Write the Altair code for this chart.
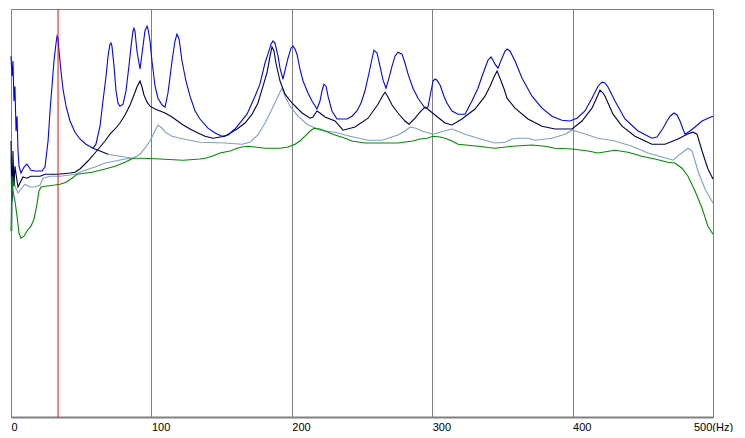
import altair as alt
import pandas as pd

# Frequency (Hz) and level (dB, arbitrary reference)
blue_hz = [0, 0.7, 1.4, 2.1, 2.8, 3.6, 4.3, 5.0, 5.7, 7.1, 9.3, 11.4, 12.8, 14.2, 17.1, 22.1, 24.2, 26.4, 27.8, 29.2,
           30.6, 32.1, 32.8, 33.5, 34.2, 35.6, 37.0, 39.2, 42.0, 45.6, 49.1, 53.4, 58.4, 60.5, 63.4, 65.5, 67.7, 69.1,
           70.5, 71.2, 71.9, 73.4, 74.8, 76.2, 77.6, 79.8, 81.9, 84.0, 85.5, 86.9, 87.6, 88.3, 89.7, 91.9, 94.0, 95.4,
           96.9, 97.6, 99.0, 100.4, 102.6, 104.7, 107.6, 109.7, 111.8, 114.7, 116.8, 118.2, 119.7, 121.8, 124.6, 127.5,
           131.1, 134.6, 140.3, 145.3, 150.3, 154.6, 159.5, 168.1, 173.8, 177.3, 180.9, 183.0, 185.2, 186.6, 188.0,
           190.2, 191.6, 193.7, 195.9, 197.3, 199.4, 200.9, 202.3, 203.7, 205.8, 208.0, 211.5, 214.4, 217.9, 220.1,
           221.5, 222.9, 224.4, 225.8, 228.6, 232.2, 239.3, 242.9, 246.4, 249.3, 252.1, 255.0, 257.1, 258.5, 260.7,
           262.8, 265.0, 267.1, 269.2, 271.4, 273.5, 275.6, 278.5, 280.6, 282.8, 286.3, 289.9, 294.9, 297.0, 299.2,
           300.6, 302.0, 303.4, 305.6, 308.4, 310.5, 314.1, 318.4, 323.4, 328.3, 332.6, 335.5, 337.6, 339.7, 341.9,
           343.3, 344.7, 346.9, 348.3, 349.7, 351.9, 353.3, 355.4, 359.0, 364.0, 371.1, 378.2, 385.3, 392.4, 398.1,
           403.1, 408.8, 413.8, 418.1, 420.9, 423.1, 425.2, 430.2, 437.3, 446.6, 456.5, 460.1, 464.4, 467.2, 469.4,
           472.2, 474.4, 476.5, 478.6, 480.1, 483.6, 487.2, 492.2, 496.4, 500.0]
blue_lvl = [-11.8, -16.8, -13, -23, -19.3, -30.5, -26.8, -35.5, -39.3, -41, -39.5, -38.8, -39.5, -40.3, -40.5, -40.5,
            -39.5, -33, -25.5, -19.3, -13, -8.5, -6.8, -7.3, -10.5, -15.5, -20, -24.3, -28, -30.8, -32.5, -33.8, -34.8,
            -33.8, -29.3, -23, -16.8, -11.8, -8.8, -8.5, -9.3, -14.3, -20.5, -23.5, -24.3, -23.8, -20.5, -14.3, -9.3,
            -5.5, -4.8, -5.5, -10.5, -15, -9.3, -5.5, -4.3, -5, -8, -13, -19.3, -22.3, -24, -24.5, -21, -13, -8, -6.3,
            -7.5, -13, -18, -21.8, -25.5, -27.5, -29.8, -31, -31.8, -31.5, -30, -26.3, -21.8, -18.8, -13.5, -11.3,
            -8.8, -8, -8.5, -11.8, -14.8, -17.5, -14.3, -12.3, -9.8, -9.3, -10, -11.3, -15, -18, -21, -23, -25, -23,
            -20.5, -18.8, -19.3, -21.8, -25.5, -27.5, -27.5, -26.8, -25.5, -23.5, -20.5, -16, -12.5, -10.3, -11,
            -14.3, -17.8, -19.8, -17.3, -14.3, -11.8, -10.8, -11.3, -13.5, -16.3, -19.8, -22.3, -24.8, -24.5, -20.5,
            -18, -17.5, -17.8, -19, -21.8, -23.5, -25.5, -26.3, -26.3, -23, -19.8, -16.8, -14.8, -12.8, -12, -12.8,
            -13.8, -14.8, -13.5, -12.3, -10.5, -10, -10.5, -13, -17.3, -21.8, -24.8, -26.8, -27.8, -28, -27.3, -25.5,
            -22.3, -19.3, -18.3, -18.5, -19.5, -23, -27.5, -30.5, -32.3, -32, -29.8, -28, -26.8, -26, -26.5, -28, -30,
            -31.3, -30.5, -29.5, -28, -27.3, -26.8]

navy_hz = [0, 0.7, 1.4, 2.1, 2.8, 4.3, 5.0, 6.4, 8.5, 11.4, 14.2, 20.7, 24.2, 33.5, 42.0, 45.6, 49.1, 54.8, 59.8,
           63.4, 67.0, 70.5, 74.1, 77.6, 81.2, 84.8, 87.6, 89.7, 91.9, 93.3, 94.7, 96.9, 99.0, 102.6, 106.1, 109.7,
           114.7, 121.8, 127.5, 133.2, 138.2, 143.9, 148.9, 152.4, 161.0, 166.7, 171.7, 175.9, 179.5, 182.3, 184.5,
           185.9, 187.3, 188.7, 191.6, 195.2, 200.1, 207.3, 213.0, 215.1, 217.9, 220.1, 223.6, 230.8, 236.5, 245.0,
           254.3, 261.4, 264.2, 266.4, 268.5, 271.4, 275.6, 280.6, 283.5, 287.8, 291.3, 294.9, 298.5, 302.0, 309.1,
           314.1, 321.2, 330.5, 337.6, 341.2, 344.0, 346.2, 348.3, 351.2, 353.3, 359.0, 368.2, 378.2, 387.5, 399.6,
           406.7, 413.8, 417.4, 419.5, 421.7, 423.1, 428.8, 435.2, 444.4, 456.5, 465.8, 475.1, 481.5, 485.8, 488.6,
           492.2, 496.4, 500.0]
navy_lvl = [-33, -48, -35.5, -44.3, -39.3, -43, -44.5, -43.5, -42, -42.3, -41.8, -41.8, -41.3, -41.3, -41, -40.8,
            -40, -38, -36, -34.5, -33, -31.3, -30, -28.5, -26.5, -24, -21.5, -19.5, -18, -19.5, -21.5, -23.3, -24.3,
            -25, -25.5, -26, -27, -28.8, -30, -31, -31.8, -32.3, -32, -31.8, -30, -28.5, -26.3, -23.5, -19.3, -16,
            -11.8, -9.5, -10.5, -13.5, -18, -21.3, -23.5, -26, -27.3, -27, -25.5, -26, -27, -28, -30.3, -29.5, -27.3,
            -23.8, -22, -20.8, -22, -24, -26, -28, -28.8, -27.3, -25.8, -24.5, -25.5, -26.5, -28.5, -29, -27.5, -25,
            -21.8, -19.3, -17, -15.5, -17.3, -20, -22.3, -24.8, -27.5, -29.3, -30, -30, -28, -24.8, -22, -20.3, -21,
            -21.8, -26.3, -29.3, -31.8, -33.8, -33.8, -32.5, -31.3, -30.8, -31.3, -35.5, -40, -42.5]

steel_hz = [0, 0.7, 1.4, 2.8, 5.0, 7.1, 10.0, 13.5, 17.1, 20.7, 22.8, 27.8, 34.9, 42.0, 45.6, 52.7, 59.8, 67.0,
            74.1, 81.2, 86.9, 91.9, 95.4, 99.0, 101.8, 104.7, 107.6, 109.7, 114.7, 120.4, 134.6, 152.4, 164.5, 170.2,
            175.9, 180.9, 185.9, 190.2, 193.0, 195.2, 198.7, 204.4, 210.8, 220.1, 230.8, 241.5, 254.3, 264.2, 275.6,
            280.6, 284.2, 288.5, 292.7, 300.6, 305.6, 310.5, 314.1, 323.4, 332.6, 344.7, 351.9, 356.8, 361.1, 368.2,
            373.2, 385.3, 394.6, 399.6, 406.7, 418.1, 430.2, 442.3, 453.7, 463.7, 471.5, 476.5, 482.2, 485.1, 489.3,
            494.3, 500.0]
steel_lvl = [-36.8, -55.5, -39.3, -44.3, -46, -45, -43.8, -44.5, -44.5, -44, -42.3, -41.8, -41.8, -41.5, -41.3,
             -40.3, -39.5, -38.5, -38, -37.5, -37.3, -36.3, -34.8, -33, -31, -29, -29.8, -30.8, -31.8, -32.3, -33.3,
             -33.5, -33.8, -33.3, -31.5, -28.5, -25, -21.8, -19.8, -21.8, -24.3, -26.8, -28.8, -30.3, -30.8, -31.8,
             -32.8, -32.8, -31.5, -30.5, -29.5, -29.8, -30.5, -31.3, -30.8, -30.3, -30, -31.3, -32.3, -33.5, -33.3,
             -32.5, -32.3, -32.3, -32.8, -32.3, -31.3, -30.3, -31, -32.3, -33, -34.3, -36, -37, -37.8, -36.3, -34.8,
             -35.5, -40.5, -45, -48.5]

green_hz = [0, 0.7, 1.4, 2.8, 4.3, 5.7, 7.1, 9.3, 11.4, 14.2, 16.4, 18.5, 19.9, 21.4, 24.2, 31.3, 34.9, 39.2, 43.4,
            47.0, 57.7, 67.0, 74.1, 81.2, 86.9, 94.0, 106.1, 122.5, 134.6, 138.2, 143.2, 148.9, 156.0, 161.0, 164.5,
            168.8, 173.8, 180.9, 191.6, 197.3, 202.3, 205.8, 209.4, 213.0, 215.8, 220.1, 223.6, 230.8, 237.9, 242.9,
            252.1, 262.8, 275.6, 286.3, 291.3, 296.3, 300.6, 305.6, 309.1, 314.1, 318.4, 332.6, 344.7, 356.8, 371.1,
            380.3, 387.5, 399.6, 411.0, 418.1, 430.2, 439.5, 449.4, 458.7, 467.9, 472.9, 477.9, 482.2, 487.2, 492.2,
            496.4, 500.0]
green_lvl = [-55.5, -41.8, -45.5, -48, -51.8, -56, -57.3, -56.8, -55.5, -54.3, -52.5, -48.8, -45.5, -44.5, -44.3,
             -44, -43.8, -43.3, -42.3, -41.3, -40.8, -40, -39.3, -38.3, -37.3, -37.3, -37.5, -37.8, -37.5, -37.3,
             -36.8, -36, -35.5, -34.8, -34.5, -34.3, -34.5, -34.8, -34.8, -34.5, -33.8, -33, -31.8, -30.5, -29.8, -30,
             -30.5, -31.5, -32.3, -33, -33.5, -33.5, -33.5, -33, -32.5, -32.3, -31.8, -32, -32.3, -33, -33.8, -34.3,
             -34.8, -34.3, -34, -34.3, -34.8, -35, -35.5, -36, -35.3, -35.8, -36.8, -37.5, -38.3, -38.5, -39.8, -41.8,
             -45.5, -49.8, -54.3, -56.3]

# short overlapping traces seen after the 33 Hz resonance
navy_tail_hz = [58.4, 63.4, 69.1]
navy_tail_lvl = [-34.8, -35.5, -36.3]
steel_tail_hz = [69.1, 77.6, 86.9]
steel_tail_lvl = [-36.3, -36.8, -37.3]

marker_hz = [33.5]
tick_values = [0, 100, 200, 300, 400, 500]

series = [
    ("steel", steel_hz, steel_lvl),
    ("steel_tail", steel_tail_hz, steel_tail_lvl),
    ("navy", navy_hz, navy_lvl),
    ("navy_tail", navy_tail_hz, navy_tail_lvl),
    ("green", green_hz, green_lvl),
    ("blue", blue_hz, blue_lvl),
]
rows = []
for name, hz, lv in series:
    for i, (f, v) in enumerate(zip(hz, lv)):
        rows.append({"series": name, "freq": f, "level": v, "i": i})
df = pd.DataFrame(rows)

color_domain = ["steel", "steel_tail", "navy", "navy_tail", "green", "blue"]
color_range = ["#7f9fc8", "#7f9fc8", "#000048", "#000048", "#008c00", "#0000ff"]

x_enc = alt.X(
    "freq:Q",
    scale=alt.Scale(domain=[0, 500], nice=False, zero=False),
    axis=alt.Axis(
        values=tick_values,
        title=None,
        grid=True,
        gridColor="#808080",
        gridOpacity=1,
        gridWidth=1,
        domainColor="#808080",
        domainWidth=2,
        ticks=False,
        labelFlush=False,
        labelAlign={"condition": {"test": "datum.value === 500", "value": "center"}, "value": "left"},
        labelExpr="datum.value === 500 ? '500(Hz)' : datum.label",
        labelFont="Liberation Sans",
        labelFontSize=11,
        labelColor="#000000",
        labelPadding=4,
    ),
)

lines = alt.Chart(df).mark_line(strokeWidth=1.1, interpolate="linear").encode(
    x=x_enc,
    y=alt.Y("level:Q", scale=alt.Scale(domain=[-102, 0], nice=False, zero=False), axis=None),
    color=alt.Color("series:N", scale=alt.Scale(domain=color_domain, range=color_range), legend=None),
    detail="series:N",
    order="i:Q",
)

marker = alt.Chart(pd.DataFrame({"freq": marker_hz})).mark_rule(color="#ff0000", strokeWidth=1).encode(
    x=alt.X("freq:Q")
)

chart = alt.layer(lines, marker).properties(
    width=702,
    height=408,
    padding={"left": 0, "top": 0, "right": 0, "bottom": 0},
).configure_view(stroke="#808080", strokeWidth=1)

chart.save("out.html", embed_options={"renderer": "svg", "actions": False})
